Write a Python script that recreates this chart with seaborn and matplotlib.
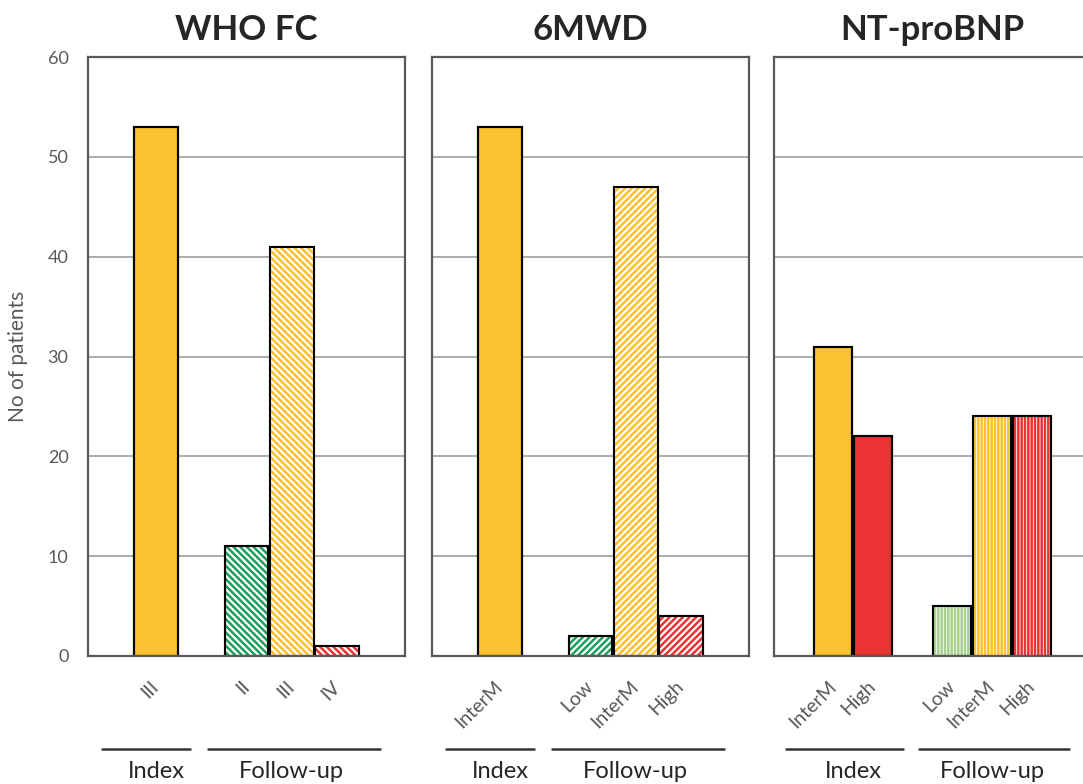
import matplotlib
matplotlib.use("Agg")
import matplotlib.pyplot as plt
import matplotlib.transforms as mtransforms
import seaborn as sns
import pandas as pd

sns.set_style("white")
plt.rcParams["font.family"] = ["Lato", "DejaVu Sans"]
plt.rcParams["hatch.linewidth"] = 1.8

# data
panel_titles = ["WHO FC", "6MWD", "NT-proBNP"]

who_index_labels = ["III"]
who_index_values = [53]
who_fu_labels = ["II", "III", "IV"]
who_fu_values = [11, 41, 1]

mwd_index_labels = ["InterM"]
mwd_index_values = [53]
mwd_fu_labels = ["Low", "InterM", "High"]
mwd_fu_values = [2, 47, 4]

bnp_index_labels = ["InterM", "High"]
bnp_index_values = [31, 22]
bnp_fu_labels = ["Low", "InterM", "High"]
bnp_fu_values = [5, 24, 24]

group_names = ["Index", "Follow-up"]

# colours / styles
GREEN = "#1E9E5C"
LIGHT_GREEN = "#A9D18E"
YELLOW = "#FCC12E"
RED = "#EB3333"
risk_colors = {"II": GREEN, "Low": GREEN, "III": YELLOW, "InterM": YELLOW,
               "IV": RED, "High": RED}
GRAY = "#595959"

panels = [
    (who_index_labels, who_index_values, who_fu_labels, who_fu_values, "\\" * 5, {}),
    (mwd_index_labels, mwd_index_values, mwd_fu_labels, mwd_fu_values, "/" * 5, {}),
    (bnp_index_labels, bnp_index_values, bnp_fu_labels, bnp_fu_values, "|" * 5,
     {"Low": LIGHT_GREEN}),
]

W, H = 1083, 784
fig = plt.figure(figsize=(W / 100, H / 100), dpi=100)
lefts = [88, 432, 774]
ax_w = 317
ax_bottom, ax_top = 656, 57

for i, (title, (idx_lab, idx_val, fu_lab, fu_val, hatch, fu_override)) in enumerate(
        zip(panel_titles, panels)):
    ax = fig.add_axes([lefts[i] / W, (H - ax_bottom) / H, ax_w / W, (ax_bottom - ax_top) / H])

    idx_keys = [f"Index:{l}" for l in idx_lab]
    fu_keys = [f"Follow-up:{l}" for l in fu_lab]
    order = idx_keys + ["_gap"] + fu_keys
    df = pd.DataFrame({"key": idx_keys + fu_keys, "value": idx_val + fu_val})

    palette = {k: risk_colors[l] for k, l in zip(idx_keys, idx_lab)}
    palette.update({k: fu_override.get(l, risk_colors[l]) for k, l in zip(fu_keys, fu_lab)})

    sns.barplot(data=df, x="key", y="value", order=order, hue="key",
                hue_order=idx_keys + fu_keys, palette=palette, legend=False,
                width=0.96, saturation=1, errorbar=None,
                edgecolor="black", linewidth=1.5, ax=ax)

    # follow-up bars: white fill with coloured hatch
    for p in list(ax.patches):
        pos = int(round(p.get_x() + p.get_width() / 2))
        key = order[pos]
        if key in fu_keys:
            p.set_facecolor("white")
            p.set_edgecolor(palette[key])
            p.set_hatch(hatch)

    # black outlines on top
    sns.barplot(data=df, x="key", y="value", order=order, color="black",
                fill=False, width=0.96, errorbar=None, linewidth=1.5, ax=ax)

    ax.set_xlim(-1.5, len(order) + 0.5)
    ax.set_ylim(0, 60)
    ax.set_yticks(range(0, 61, 10))
    ax.yaxis.grid(True, color="#A6A6A6", linewidth=1.3)
    ax.set_axisbelow(True)
    for s in ax.spines.values():
        s.set_color(GRAY)
        s.set_linewidth(1.6)

    labels = [k.split(":", 1)[1] if k != "_gap" else "" for k in order]
    ax.set_xticks(range(len(order)))
    ax.set_xticklabels(labels, rotation=45, ha="right", va="center",
                       rotation_mode="anchor", color=GRAY, fontsize=14)
    ax.tick_params(axis="x", length=0, pad=20)
    ax.tick_params(axis="y", length=0, pad=14, labelsize=13, labelcolor=GRAY)
    ax.set_xlabel("")
    if i == 0:
        ax.set_ylabel("No of patients", fontsize=15, color=GRAY)
        ax.yaxis.set_label_coords(-0.19, 0.5)
    else:
        ax.set_ylabel("")
        ax.tick_params(axis="y", labelleft=False)

    ax.set_title(title, fontsize=25, fontweight="bold", pad=12)

    # group brackets below the category labels
    trans = mtransforms.blended_transform_factory(ax.transData, ax.transAxes)
    n_idx = len(idx_keys)
    idx_span = (-1.2, n_idx - 1 + 0.75)
    fu_span = (n_idx + 1 - 0.85, len(order) - 1 + 0.95)
    idx_center = (n_idx - 1) / 2
    fu_center = (n_idx + 1 + len(order) - 1) / 2
    for span, center, name in [(idx_span, idx_center, group_names[0]),
                               (fu_span, fu_center, group_names[1])]:
        ax.plot(span, [-0.155, -0.155], transform=trans, color="#333333",
                linewidth=1.8, clip_on=False)
        ax.text(center, -0.176, name, transform=trans, ha="center", va="top",
                fontsize=17, color="#262626")

fig.savefig("out.png", dpi=100)
